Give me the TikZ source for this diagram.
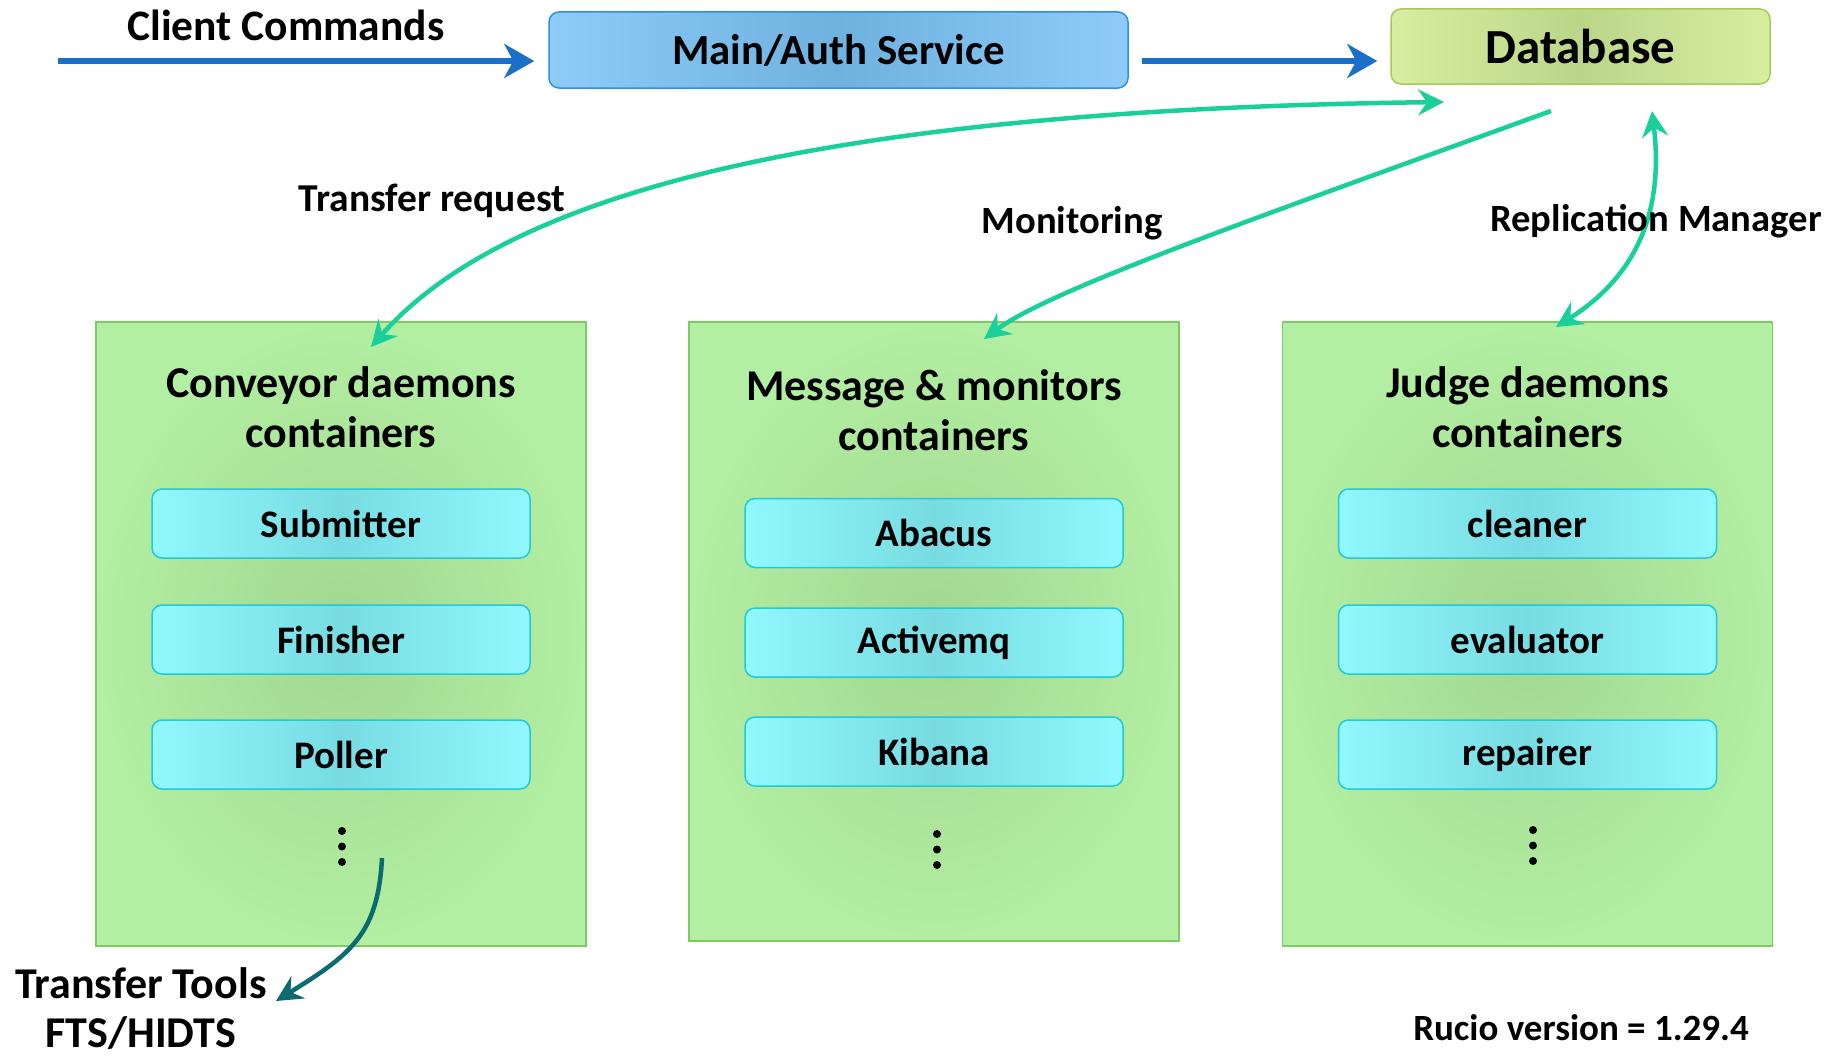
\documentclass[tikz,border=0pt]{standalone}
\usepackage{fontspec}
\setmainfont{Carlito}
\usetikzlibrary{arrows.meta}

\definecolor{flowblue}{HTML}{1A70C8}
\definecolor{linkgreen}{HTML}{19CF9A}
\definecolor{toolteal}{HTML}{0B6B6E}
\definecolor{svcedge}{HTML}{2A93DA}
\definecolor{svclight}{HTML}{8ECBF8}
\definecolor{svcdark}{HTML}{6FB1DF}
\definecolor{dbedge}{HTML}{A9C955}
\definecolor{dblight}{HTML}{D6EEA0}
\definecolor{dbdark}{HTML}{BCD689}
\definecolor{boxedge}{HTML}{7CCB63}
\definecolor{boxlight}{HTML}{B2EFA2}
\definecolor{boxdark}{HTML}{A2D68F}
\definecolor{daemonedge}{HTML}{22C9D8}
\definecolor{daemonlight}{HTML}{90F8FE}
\definecolor{daemondark}{HTML}{78DBE2}

\tikzset{
  greentip/.tip={Stealth[length=26pt, width=26pt, inset=9pt]},
  bluetip/.tip={Stealth[length=30pt, width=34pt, inset=9pt]},
  txt/.style 2 args={font=\bfseries\fontsize{#1}{#2}\selectfont, text=black, inner sep=0pt, align=center},
  service/.style={draw=svcedge, line width=1.5pt, rounded corners=10pt,
    left color=svclight, right color=svclight, middle color=svcdark,
    minimum width=579pt, minimum height=76pt, txt={42.8}{50}},
  dbbox/.style={draw=dbedge, line width=1.5pt, rounded corners=10pt,
    left color=dblight, right color=dblight, middle color=dbdark,
    minimum width=379pt, minimum height=75pt, txt={49}{56}},
  container/.style={draw=boxedge, line width=1.5pt,
    inner color=boxdark, outer color=boxlight, minimum width=490pt},
  daemon/.style={draw=daemonedge, line width=1.5pt, rounded corners=10pt,
    left color=daemonlight, right color=daemonlight, middle color=daemondark,
    minimum width=378pt, minimum height=69pt, txt={39}{46}},
  bluearrow/.style={draw=flowblue, line width=5.5pt, -bluetip},
  greenlink/.style={draw=linkgreen, line width=4.5pt},
  toollink/.style={draw=toolteal, line width=4.5pt, -greentip},
  dot/.style={fill=black, draw=none, circle, minimum size=8pt, inner sep=0pt},
}

\begin{document}
\begin{tikzpicture}[x=1pt, y=-1pt]
\useasboundingbox (0,0) rectangle (1831,1057);

% top row: service and database
\node[service] (main) at (838.5,50) {Main/Auth Service};
\node[dbbox] (db) at (1580.5,46.5) {Database};
\coordinate (client) at (58,61);
\node[txt={43.5}{50}] (clientlbl) at (286,25) {Client Commands};

\draw[bluearrow] (client) -- ([xshift=-14pt, yshift=-11pt]main.west);
\draw[bluearrow] ([xshift=13pt, yshift=-11pt]main.east) -- ([xshift=-13pt, yshift=-14.5pt]db.west);

% daemon containers
\node[container, minimum height=624pt] (conv) at (341,634) {};
\node[container, minimum height=619pt] (msg) at (934,631.5) {};
\node[container, minimum height=624pt] (judge) at (1527.5,634) {};

\node[txt={44}{50}] (convtitle) at (341,407) {Conveyor daemons\\containers};
\node[txt={44}{50}] (msgtitle) at (934,410) {Message \& monitors\\containers};
\node[txt={44}{50}] (judgetitle) at (1527.5,407) {Judge daemons\\containers};

\node[daemon] (submitter) at (341,523.5) {Submitter};
\node[daemon] (finisher) at (341,639.5) {Finisher};
\node[daemon] (poller) at (341,754.5) {Poller};

\node[daemon] (abacus) at (934,533) {Abacus};
\node[daemon] (activemq) at (934,642.5) {Activemq};
\node[daemon] (kibana) at (934,751.5) {Kibana};

\node[daemon] (cleaner) at (1527.5,523.5) {cleaner};
\node[daemon] (evaluator) at (1527.5,639.5) {evaluator};
\node[daemon] (repairer) at (1527.5,754.5) {repairer};

% continuation dots
\foreach \x/\y [count=\i] in {342/831, 937/834, 1533/830} {
  \node[dot] (dotsA\i) at (\x,\y) {};
  \node[dot] (dotsB\i) at (\x,\y+15.5) {};
  \node[dot] (dotsC\i) at (\x,\y+31) {};
}

% link end points
\coordinate (convin) at (371,347);
\coordinate (dbtransfer) at (1444,102);
\coordinate (dbmon) at (1551,111);
\coordinate (msgin) at (984,339);
\coordinate (dbrep) at (1652,111);
\coordinate (judgein) at (1556,327);
\coordinate (convout) at (382,858);
\coordinate (tools) at (276,1001);

\draw[greenlink, greentip-greentip] (convin) .. controls (500,200) and (800,110) .. (dbtransfer);
\draw[greenlink, -greentip] (dbmon) .. controls (1250,220) and (1050,290) .. (msgin);
\draw[greenlink, greentip-greentip] (dbrep) .. controls (1665,220) and (1630,280) .. (judgein);
\draw[toollink] (convout) .. controls (378,935) and (350,955) .. (tools);

% labels
\node[txt={39.5}{46}] (lbltransfer) at (432,201) {Transfer request};
\node[txt={38.6}{46}] (lblmon) at (1072,223) {Monitoring};
\node[txt={38.6}{46}] (lblrep) at (1656,221) {Replication Manager};
\node[txt={44}{49}] (lbltools) at (141,1009) {Transfer Tools\\FTS/HIDTS};
\node[txt={37}{44}] (version) at (1581,1028) {Rucio version = 1.29.4};
\end{tikzpicture}
\end{document}
